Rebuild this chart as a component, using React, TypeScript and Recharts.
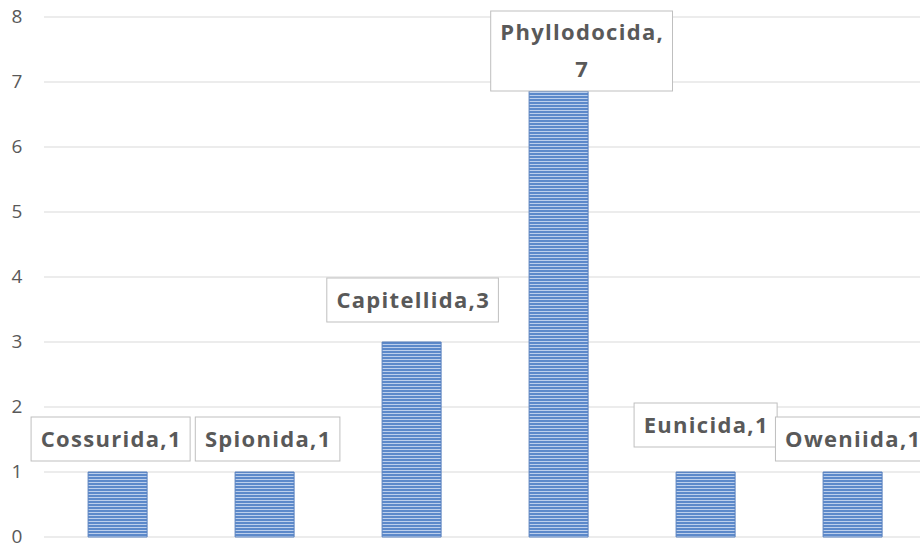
import React from 'react';
import { BarChart, Bar, XAxis, YAxis, CartesianGrid, LabelList } from 'recharts';

const categories = ['Cossurida', 'Spionida', 'Capitellida', 'Phyllodocida', 'Eunicida', 'Oweniida'];
const counts = [1, 1, 3, 7, 1, 1];
const yTicks = [0, 1, 2, 3, 4, 5, 6, 7, 8];

const data = categories.map((name, i) => ({ name, value: counts[i] }));

const LABEL_FONT_SIZE = 22;
const LABEL_SPACING = 1.3;
const LABEL_FONT = `bold ${LABEL_FONT_SIZE}px "Open Sans"`;

// manual nudges of the data label boxes (dx of box centre, gap between box bottom and bar top)
const labelLayout = [
  { dx: -7, gap: 11 },
  { dx: 3, gap: 11 },
  { dx: 1, gap: 20 },
  { dx: 23, gap: -9 },
  { dx: 0, gap: 25 },
  { dx: 0, gap: 11 },
];

let ctx: CanvasRenderingContext2D | null = null;
function measure(text: string): number {
  if (!ctx) {
    const c = document.createElement('canvas');
    ctx = c.getContext('2d');
  }
  if (!ctx) return text.length * 12;
  ctx.font = LABEL_FONT;
  return ctx.measureText(text).width + LABEL_SPACING * text.length;
}

const DataLabel = (props: any) => {
  const { x, y, width, value, index } = props;
  const name = categories[index];
  const full = `${name},${value}`;
  const fullW = measure(full);
  const lines = fullW > 172 ? [`${name},`, `${value}`] : [full];
  const textW = Math.max(...lines.map(measure));
  const boxW = textW + 18;
  const boxH = lines.length === 1 ? 44 : 80;
  const lay = labelLayout[index] || { dx: 0, gap: 11 };
  const cx = x + width / 2 + lay.dx;
  const bottom = y - lay.gap;
  const top = bottom - boxH;
  const lineBaselines = lines.length === 1 ? [top + 30] : [top + 29, top + 66];
  return (
    <g>
      <rect x={cx - boxW / 2} y={top} width={boxW} height={boxH} fill="#ffffff" stroke="#BFBFBF" strokeWidth={1} />
      {lines.map((ln, i) => (
        <text
          key={i}
          x={cx + LABEL_SPACING / 2}
          y={lineBaselines[i]}
          textAnchor="middle"
          fill="#595959"
          fontFamily='"Open Sans"'
          fontWeight="bold"
          fontSize={LABEL_FONT_SIZE}
          letterSpacing={LABEL_SPACING}
        >
          {ln}
        </text>
      ))}
    </g>
  );
};

const YTick = (props: any) => {
  const { y, payload } = props;
  return (
    <text x={17} y={y} dy={6} textAnchor="middle" fill="#595959" fontFamily='"Open Sans"' fontSize={19}>
      {payload.value}
    </text>
  );
};

export default function App() {
  return (
    <div style={{ position: 'absolute', left: 0, top: 0, width: 920, height: 544, overflow: 'hidden', background: '#fff' }}>
      <BarChart width={926} height={544} data={data} margin={{ top: 17, right: 0, bottom: 7, left: 0 }} barCategoryGap="30%">
        <defs>
          <pattern id="hstripes" patternUnits="userSpaceOnUse" width={6} height={3}>
            <rect x={0} y={0} width={6} height={3} fill="#5C89CA" />
            <rect x={0} y={2} width={6} height={1} fill="#BCCFEC" />
          </pattern>
        </defs>
        <CartesianGrid vertical={false} stroke="#D9D9D9" strokeWidth={1} />
        <XAxis dataKey="name" hide />
        <YAxis width={44} domain={[0, 8]} ticks={yTicks} axisLine={false} tickLine={false} tick={<YTick />} interval={0} />
        <Bar dataKey="value" fill="url(#hstripes)" stroke="#5A82BE" strokeWidth={1} isAnimationActive={false}>
          <LabelList dataKey="value" content={<DataLabel />} />
        </Bar>
      </BarChart>
    </div>
  );
}
